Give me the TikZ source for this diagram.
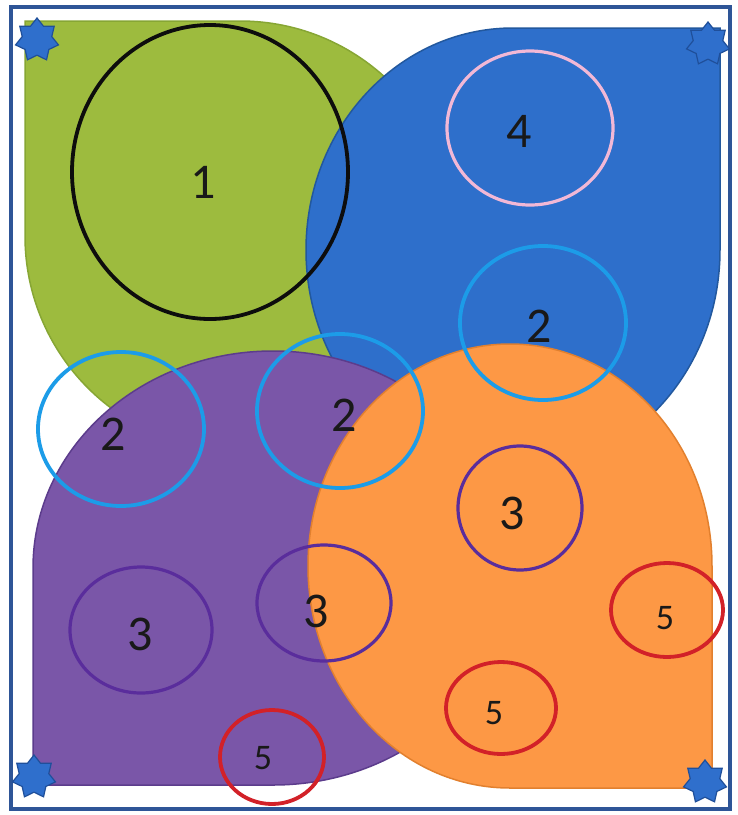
\documentclass[tikz,border=0pt]{standalone}
\usepackage{fontspec}
\setmainfont{Carlito}
\usetikzlibrary{shapes.geometric}
\definecolor{gfill}{HTML}{9DBB3E}
\definecolor{gline}{HTML}{87A634}
\definecolor{bfill}{HTML}{2E6FCB}
\definecolor{bline}{HTML}{22589E}
\definecolor{pfill}{HTML}{7A56A8}
\definecolor{pline}{HTML}{5C3C8C}
\definecolor{ofill}{HTML}{FD9845}
\definecolor{oline}{HTML}{E2802E}
\definecolor{lblue}{HTML}{1C9CE8}
\definecolor{dpurp}{HTML}{5A2D9C}
\definecolor{redc}{HTML}{D22128}
\definecolor{pinkc}{HTML}{F2B8D6}
\definecolor{framec}{HTML}{2E5597}
\definecolor{starc}{HTML}{2F6FCC}
\definecolor{stard}{HTML}{1F4F9A}
\tikzset{
  drop/.style={line width=1.5},
  ring/.style={line width=3.8},
  starmark/.style={star, star points=7, star point ratio=1.45, minimum size=44, inner sep=0, fill=starc, draw=stard, line width=1.2},
  big/.style={font=\fontsize{50}{50}\selectfont, text=black!90, inner sep=0},
  small/.style={font=\fontsize{36}{36}\selectfont, text=black!90, inner sep=0}
}
\begin{document}
\begin{tikzpicture}[x=1pt,y=-1pt]
\useasboundingbox (0,0) rectangle (738,815);
\fill[white] (0,0) rectangle (738,815);
\draw[framec, line width=4] (11,7) rectangle (730,809);
% teardrops
\draw[drop, fill=gfill, draw=gline] (240,21) -- (25,21) -- (25,236) arc[start angle=180, end angle=-90, radius=215] -- cycle;
\draw[drop, fill=bfill, draw=bline] (513,28) -- (720,28) -- (720,250) arc[start angle=0, end angle=270, x radius=207, y radius=222] -- cycle;
\draw[drop, fill=pfill, draw=pline] (33,568) -- (33,785) -- (273,785) arc[start angle=90, end angle=-180, x radius=240, y radius=217] -- cycle;
\draw[drop, fill=ofill, draw=oline] (712,566) -- (712,788) -- (510,788) arc[start angle=90, end angle=360, x radius=202, y radius=222] -- cycle;
% rings
\draw[ring, black!95] (210,172) ellipse [x radius=138, y radius=147];
\draw[ring, pinkc, line width=3.2] (530,128) ellipse [x radius=83, y radius=77];
\draw[ring, lblue] (543,323) ellipse [x radius=83, y radius=77];
\draw[ring, lblue] (121,429) ellipse [x radius=83, y radius=77];
\draw[ring, lblue] (340,411) ellipse [x radius=83, y radius=77];
\draw[ring, dpurp, line width=3.2] (520,508) ellipse [x radius=62, y radius=62];
\draw[ring, dpurp, line width=3.2] (141,630) ellipse [x radius=71, y radius=63];
\draw[ring, dpurp, line width=3.2] (324,603) ellipse [x radius=67, y radius=58];
\draw[ring, redc] (667,610) ellipse [x radius=56, y radius=47];
\draw[ring, redc] (501,708) ellipse [x radius=55, y radius=46];
\draw[ring, redc] (272,757) ellipse [x radius=52, y radius=47];
% stars
\node[starmark] (s1) at (37,40) {};
\node[starmark] (s2) at (708,44) {};
\node[starmark] (s3) at (34,777) {};
\node[starmark] (s4) at (705,782) {};
% labels
\node[big] (l1) at (203,182) {1};
\node[big] (l4) at (519,131) {4};
\node[big] (l2a) at (539,326) {2};
\node[big] (l2b) at (113,434) {2};
\node[big] (l2c) at (344,415) {2};
\node[big] (l3a) at (512,513) {3};
\node[big] (l3b) at (140,634) {3};
\node[big] (l3c) at (316,611) {3};
\node[small] (l5a) at (665,618) {5};
\node[small] (l5b) at (494,713) {5};
\node[small] (l5c) at (263,758) {5};
\end{tikzpicture}
\end{document}
